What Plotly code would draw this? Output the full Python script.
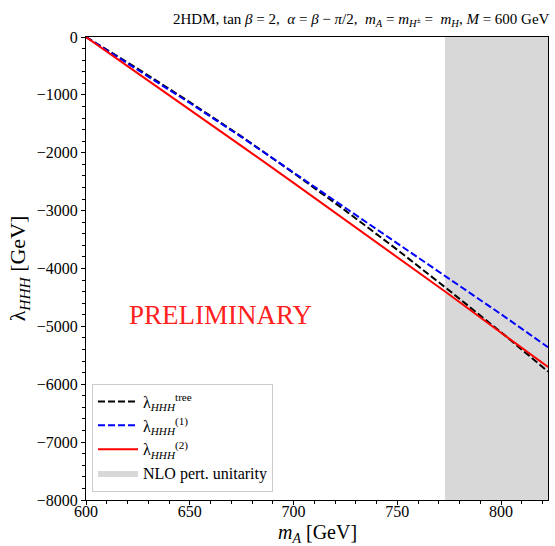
import plotly.graph_objects as go

# Data
m_A = [600, 625, 650, 675, 700, 725, 750, 775, 800, 822.6]
lam_tree = [0, -550, -1125, -1720, -2350, -3000, -3676, -4380, -5102, -5780]
lam_1 = [0, -565, -1140, -1730, -2340, -2950, -3560, -4175, -4790, -5360]
lam_2 = [0, -625, -1260, -1885, -2520, -3160, -3800, -4450, -5110, -5700]
unit_x0, unit_x1 = 773, 822.6
x_range = [600, 822.6]
y_range = [-8000, 0]

font_fam = "Liberation Serif"

fig = go.Figure()

# unitarity band (legend patch + fill)
fig.add_trace(go.Scatter(
    x=[unit_x0, unit_x1, unit_x1, unit_x0, unit_x0],
    y=[y_range[0], y_range[0], y_range[1], y_range[1], y_range[0]],
    fill="toself", fillcolor="#d8d8d8", mode="lines",
    line=dict(width=0, color="#d8d8d8"),
    name="NLO pert. unitarity", legendrank=4, hoverinfo="skip"))

fig.add_trace(go.Scatter(x=m_A, y=lam_tree, mode="lines",
    line=dict(color="black", width=2, dash="7px,3px"),
    name="λ<sub><i>HHH</i></sub><sup>tree</sup>", legendrank=1))
fig.add_trace(go.Scatter(x=m_A, y=lam_1, mode="lines",
    line=dict(color="#0000ff", width=2, dash="7px,3px"),
    name="λ<sub><i>HHH</i></sub><sup>(1)</sup>", legendrank=2))
fig.add_trace(go.Scatter(x=m_A, y=lam_2, mode="lines",
    line=dict(color="#ff0000", width=2),
    name="λ<sub><i>HHH</i></sub><sup>(2)</sup>", legendrank=3))

fig.add_annotation(x=665, y=-4800, xref="x", yref="y", text="PRELIMINARY",
    showarrow=False, font=dict(family=font_fam, size=27, color="#ff2020"))

fig.add_annotation(x=1.0, y=1.0, xref="paper", yref="paper",
    xanchor="right", yanchor="bottom", yshift=6, xshift=4,
    text="2HDM, tan <i>β</i> = 2,  <i>α</i> = <i>β</i> − <i>π</i>/2,  <i>m<sub>A</sub></i> = <i>m<sub>H<sup>±</sup></sub></i> =  <i>m<sub>H</sub></i>, <i>M</i> = 600 GeV",
    showarrow=False, font=dict(family=font_fam, size=15, color="black"))

# x-axis title as an annotation to control placement
fig.add_annotation(x=0.5, y=0, xref="paper", yref="paper",
    xanchor="center", yanchor="top", yshift=-20, borderpad=0,
    text="<i>m<sub>A</sub></i> [GeV]", showarrow=False,
    font=dict(family=font_fam, size=20, color="black"))

axis_common = dict(showline=True, linecolor="black", linewidth=1.2, mirror=True,
    ticks="outside", ticklen=4, tickwidth=1, tickcolor="black",
    showgrid=False, zeroline=False, automargin=False,
    tickfont=dict(family=font_fam, size=16, color="black"))

fig.update_xaxes(range=x_range, tick0=600, dtick=50, ticklabelstandoff=-7,
    minor=dict(ticks="outside", ticklen=2.5, dtick=10, tickcolor="black"),
    **axis_common)
fig.update_yaxes(range=y_range, tick0=0, dtick=1000,
    minor=dict(ticks="outside", ticklen=2.5, dtick=200, tickcolor="black"),
    title=dict(text="λ<sub><i>HHH</i></sub> [GeV]", font=dict(family=font_fam, size=22, color="black"), standoff=4),
    tickformat="d", **axis_common)

fig.update_layout(
    width=555, height=546,
    margin=dict(l=86, r=7, t=37, b=46),
    plot_bgcolor="white", paper_bgcolor="white",
    showlegend=True,
    legend=dict(x=0.013, y=0.018, xanchor="left", yanchor="bottom",
        bgcolor="rgba(255,255,255,0.85)", bordercolor="#cccccc", borderwidth=1,
        font=dict(family=font_fam, size=16, color="black"), tracegroupgap=4,
        itemwidth=40),
)

fig.write_html("out.html")
